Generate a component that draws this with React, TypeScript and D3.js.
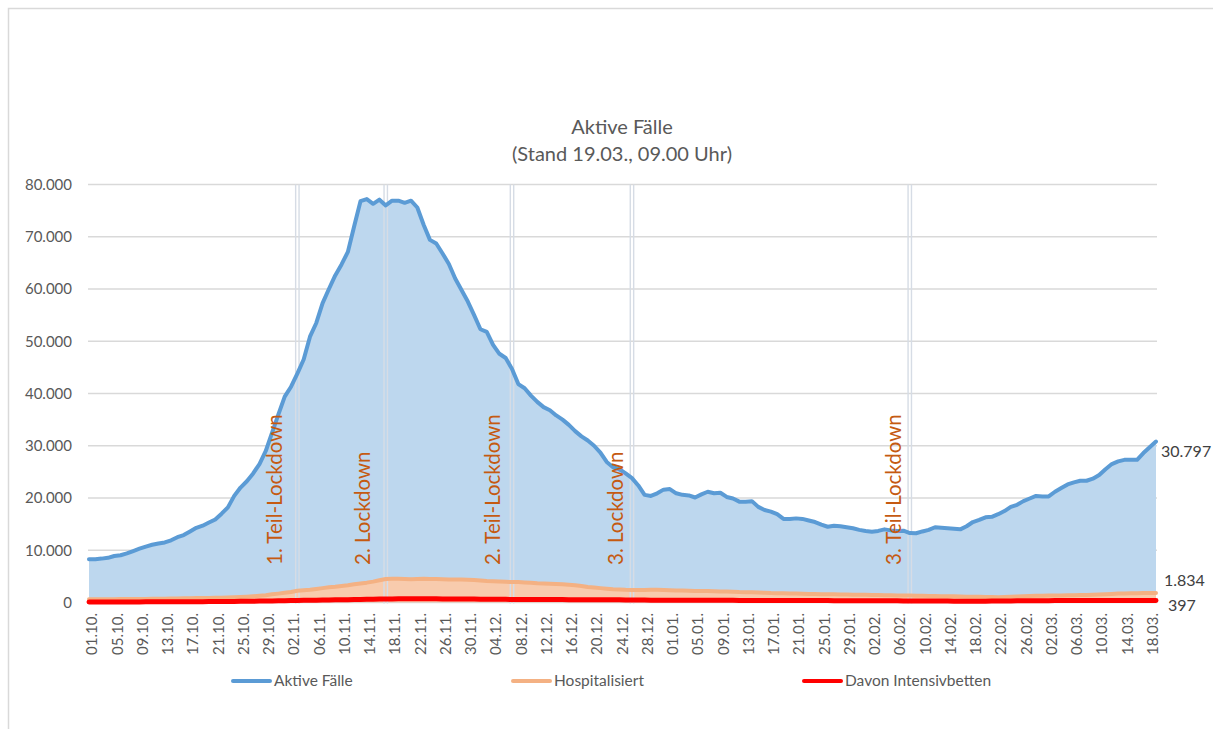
import React from "react";
import * as d3 from "d3";

// ---------- data ----------
const startDate = new Date(2020, 9, 1);
const dates: Date[] = d3.timeDay.range(startDate, new Date(2021, 2, 20));

const aktiveFaelle: number[] = [
  8300, 8280, 8400, 8550, 8900, 9050, 9400, 9850, 10300, 10700,
  11050, 11300, 11500, 11900, 12500, 12900, 13600, 14300, 14700, 15300,
  15900, 17000, 18200, 20400, 22000, 23200, 24700, 26500, 29000, 32500,
  36000, 39400, 41300, 43800, 46500, 50870, 53500, 57300, 60000, 62600,
  64700, 67100, 72000, 76800, 77200, 76300, 77100, 76000, 76900, 76900,
  76500, 76900, 75600, 72300, 69400, 68700, 66800, 64800, 62000, 59800,
  57600, 55000, 52300, 51800, 49300, 47600, 46800, 44700, 41800, 41000,
  39600, 38400, 37400, 36800, 35800, 35000, 34000, 32800, 31800, 31000,
  30000, 28700, 26900, 25900, 25500, 24700, 23800, 22400, 20600, 20400,
  20900, 21600, 21700, 20900, 20600, 20500, 20100, 20700, 21200, 20900,
  21000, 20200, 19900, 19300, 19300, 19400, 18300, 17700, 17400, 16900,
  16000, 16000, 16100, 16000, 15700, 15400, 14900, 14500, 14700, 14600,
  14400, 14200, 13900, 13700, 13550, 13700, 14000, 13800, 13700, 13750,
  13300, 13250, 13600, 13900, 14400, 14300, 14200, 14100, 14000, 14600,
  15400, 15800, 16300, 16400, 16900, 17500, 18300, 18700, 19400, 19900,
  20400, 20300, 20300, 21200, 21900, 22600, 23000, 23300, 23300, 23700,
  24400, 25500, 26500, 27000, 27300, 27300, 27300, 28600, 29700, 30797,
];

const hospitalisiert: number[] = [
  600, 610, 620, 630, 640, 650, 660, 670, 680, 690, 700,
  720, 740, 760, 780, 800, 820, 840, 860, 880, 900, 920,
  960, 1000, 1060, 1120, 1200, 1290, 1400, 1570,
  1700, 1850, 2000, 2240,
  2350, 2450, 2600, 2750, 2900, 3000,
  3150, 3300, 3500, 3650, 3800, 4000, 4250, 4500,
  4550, 4550, 4500, 4450, 4500, 4550, 4500,
  4480, 4450, 4420, 4400, 4380, 4350, 4300,
  4200, 4100, 4050, 4000, 3950, 3900,
  3900, 3850, 3800, 3700, 3650, 3600, 3550, 3500,
  3400, 3300, 3150, 2950, 2850, 2750, 2650, 2550, 2500, 2430,
  2400, 2380, 2400, 2450, 2420, 2400, 2350, 2300, 2280, 2250, 2220, 2200,
  2200, 2150, 2120, 2100, 2050, 2000, 1980, 1950, 1900, 1850, 1800, 1780, 1750, 1720,
  1700, 1680, 1650, 1620, 1600, 1580, 1560, 1540, 1520, 1500, 1480, 1460, 1440, 1420, 1400, 1380, 1360, 1340, 1320,
  1300, 1280, 1260, 1240, 1220, 1200, 1180, 1150, 1120, 1100, 1080, 1060, 1040, 1020,
  1050, 1100, 1150, 1200, 1250, 1280, 1300, 1320, 1340, 1360, 1380, 1400, 1420, 1450,
  1500, 1550, 1600, 1650, 1700, 1720, 1750, 1780, 1800, 1820, 1834,
];

const intensivbetten: number[] = [
  90, 95, 100, 95, 100, 105, 110, 110, 115, 120, 125,
  130, 135, 140, 140, 145, 150, 155, 160, 170, 180, 190,
  200, 210, 220, 230, 250, 270, 290, 310,
  330, 350, 370, 390,
  410, 430, 450, 470, 490, 510,
  530, 550, 570, 590, 610, 630, 650, 680,
  690, 700, 700, 710, 705, 700, 700,
  700, 690, 680, 680, 670, 660, 650,
  640, 630, 620, 610, 600, 590,
  585, 580, 575, 570, 565, 560, 560, 555,
  550, 545, 540, 535, 530, 525, 520, 515, 510, 500,
  470, 460, 455, 450, 450, 445, 440, 440, 435, 430, 430, 425,
  420, 420, 415, 410, 410, 405, 400, 400, 395, 390, 390, 385, 380, 380,
  375, 370, 370, 365, 360, 360, 355, 350, 350, 345, 340, 340, 335, 330, 330, 325, 320, 310, 290,
  280, 275, 270, 270, 265, 265, 260, 260, 260, 255, 255, 260, 265, 270,
  280, 300, 320, 330, 340, 345, 350, 355, 360, 360, 365, 370, 370, 375,
  375, 380, 380, 385, 385, 390, 390, 392, 394, 395, 397,
];

const yTicks: number[] = [0, 10000, 20000, 30000, 40000, 50000, 60000, 70000, 80000];
const lockdownLabels: string[] = ["1. Teil-Lockdown", "2. Lockdown", "2. Teil-Lockdown", "3. Lockdown", "3. Teil-Lockdown"];
const lockdownDates: string[] = ["03.11.", "17.11.", "07.12.", "26.12.", "08.02."];
const seriesNames: string[] = ["Aktive Fälle", "Hospitalisiert", "Davon Intensivbetten"];
const titleLines: string[] = ["Aktive Fälle", "(Stand 19.03., 09.00 Uhr)"];

// ---------- style ----------
const W = 1213, H = 729;
const FONT = "Lato, 'Open Sans', sans-serif";
const lockdownLabelOffset = [15, 16, 12, 9, 9];
const endLabelDy = [10, -13, 5];
const endLabelDx = [5, 8, 12];
const legendX = [233, 513, 804];

const fmtDay = d3.timeFormat("%d.%m.");
const locale = d3.formatLocale({ decimal: ",", thousands: ".", grouping: [3], currency: ["", "€"] });
const fmtNum = locale.format(",d");

export default function App() {
  const labels = dates.map(fmtDay);
  const x = d3.scalePoint<string>().domain(labels).range([89, 1156]);
  const y = d3.scaleLinear().domain([0, 80000]).range([602.5, 184.5]);
  const xi = (i: number) => x(labels[i]) as number;

  const areaGen = d3.area<number>().x((_, i) => xi(i)).y0(y(0)).y1((d) => y(d));
  const lineGen = d3.line<number>().x((_, i) => xi(i)).y((d) => y(d));

  const colors = ["#5b9bd5", "#f4b183", "#ff0000"];
  const series = [aktiveFaelle, hospitalisiert, intensivbetten];

  return (
    <svg width={W} height={H} style={{ position: "absolute", left: 0, top: 0 }} fontFamily={FONT}>
      <rect x={0} y={0} width={W} height={H} fill="#fff" />
      <rect x={8.5} y={8.5} width={1300} height={900} fill="none" stroke="#d9d9d9" strokeWidth={1.5} />

      {titleLines.map((t, i) => (
        <text key={t} x={622} y={134 + i * 27} textAnchor="middle" fontSize={20} fill="#595959">{t}</text>
      ))}

      {yTicks.map((t) => (
        <g key={t}>
          <line x1={88} x2={1157} y1={y(t)} y2={y(t)} stroke="#d9d9d9" strokeWidth={1.3} />
          <text x={72} y={y(t)} dy="0.35em" textAnchor="end" fontSize={15} fill="#595959">{fmtNum(t)}</text>
        </g>
      ))}

      <path d={areaGen(aktiveFaelle) || ""} fill="#bdd7ee" />
      <path d={areaGen(hospitalisiert) || ""} fill="#f8cbad" />

      {lockdownDates.map((ld) => {
        const cx = x(ld) as number;
        return (
          <g key={ld}>
            <line x1={cx - 1.7} x2={cx - 1.7} y1={y(80000)} y2={y(0) + 1} stroke="#d6dce5" strokeWidth={1.4} />
            <line x1={cx + 1.7} x2={cx + 1.7} y1={y(80000)} y2={y(0) + 1} stroke="#d6dce5" strokeWidth={1.4} />
          </g>
        );
      })}

      {series.map((s, k) => (
        <path key={k} d={lineGen(s) || ""} fill="none" stroke={colors[k]} strokeWidth={k === 2 ? 5 : 4} strokeLinejoin="round" strokeLinecap="round" />
      ))}

      {lockdownDates.map((ld, k) => {
        const bx = (x(ld) as number) - lockdownLabelOffset[k];
        return (
          <text key={ld} transform={`translate(${bx},565) rotate(-90)`} fontSize={20.5} fill="#c55a11">{lockdownLabels[k]}</text>
        );
      })}

      {labels.map((l, i) =>
        i % 4 === 0 ? (
          <text key={l} transform={`translate(${xi(i) + 3},613) rotate(-90)`} dy="0.35em" textAnchor="end" fontSize={15} fill="#595959">{l}</text>
        ) : null
      )}

      {series.map((s, k) => (
        <text key={k} x={xi(s.length - 1) + endLabelDx[k]} y={y(s[s.length - 1]) + endLabelDy[k]} dy="0.35em" fontSize={16} fill="#404040">{fmtNum(s[s.length - 1])}</text>
      ))}

      {seriesNames.map((n, k) => (
        <g key={n}>
          <line x1={legendX[k]} x2={legendX[k] + 37} y1={681} y2={681} stroke={colors[k]} strokeWidth={4} strokeLinecap="round" />
          <text x={legendX[k] + 41} y={681} dy="0.35em" fontSize={15.5} fill="#595959">{n}</text>
        </g>
      ))}
    </svg>
  );
}
